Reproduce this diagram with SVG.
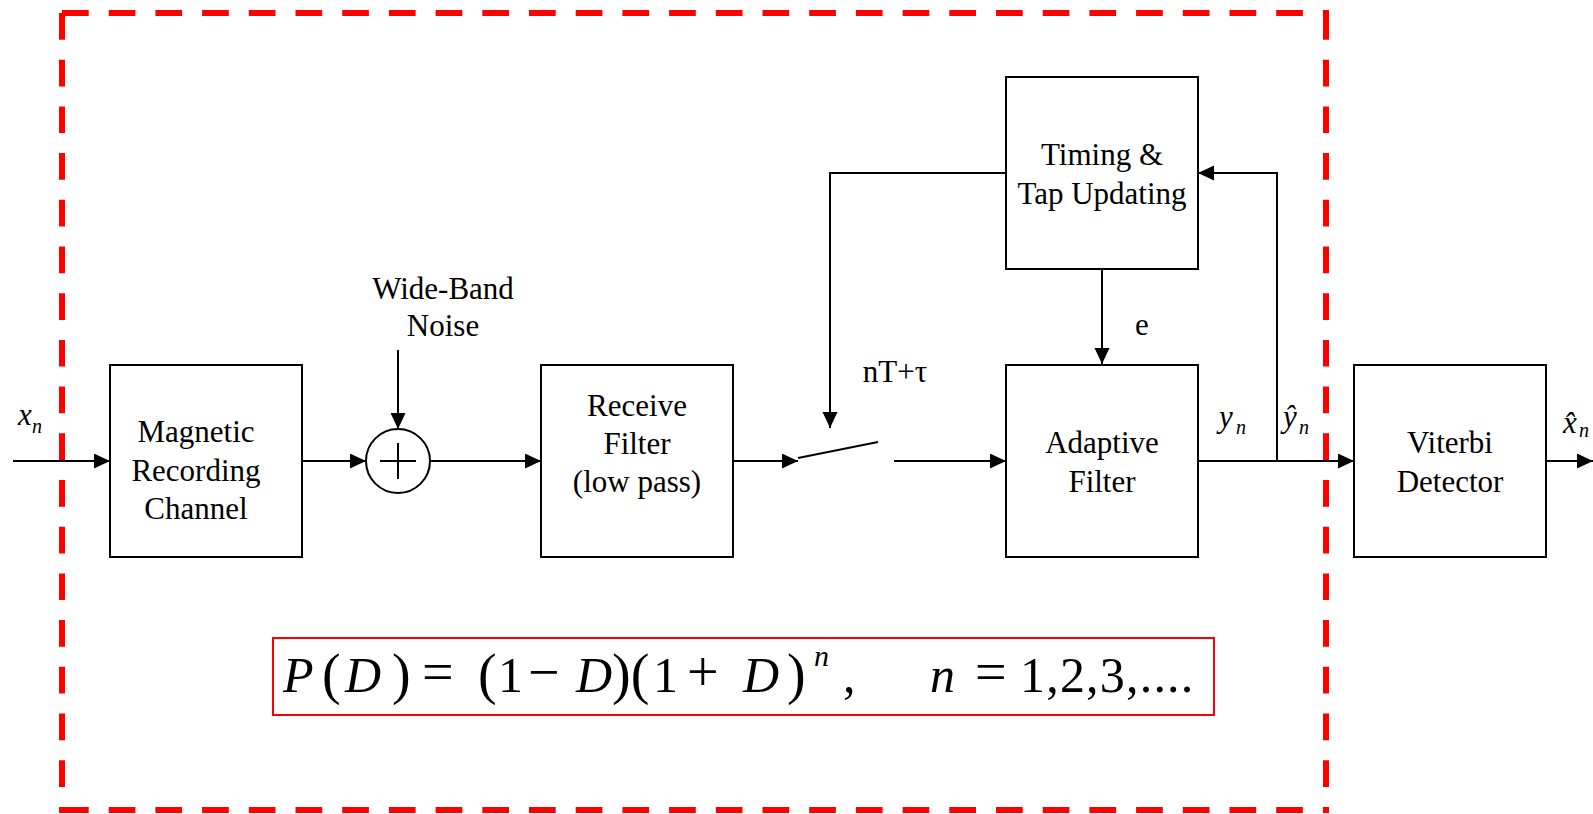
<svg xmlns="http://www.w3.org/2000/svg" width="1593" height="814" viewBox="0 0 1593 814">
<style>
.box{fill:#fff;stroke:#000;stroke-width:2}
.ln{fill:none;stroke:#000;stroke-width:2}
.arr{fill:none;stroke:#000;stroke-width:2;marker-end:url(#ah)}
.lbl{font-family:"Liberation Serif","Times New Roman",serif;font-size:31px;fill:#000;text-anchor:middle}
.it{font-family:"Liberation Serif","Times New Roman",serif;font-style:italic;fill:#000}
.eq{font-family:"Liberation Serif","Times New Roman",serif;font-size:50px;fill:#000}
.pa{font-size:56px}
.op{font-size:56px}
.dash{stroke:#f00;stroke-width:6;stroke-dasharray:26.7 20;fill:none}
</style>
<defs>
<marker id="ah" markerUnits="userSpaceOnUse" markerWidth="17" markerHeight="16" refX="16" refY="7.5" orient="auto">
<path d="M0,0 L16,7.5 L0,15 z" fill="#000"/>
</marker>
</defs>
<rect width="1593" height="814" fill="#fff"/>

<g id="boundary">
<line class="dash" x1="62" y1="13" x2="1329" y2="13"/>
<line class="dash" x1="62" y1="13" x2="62" y2="813"/>
<line class="dash" x1="62" y1="810" x2="1329" y2="810"/>
<line class="dash" x1="1326" y1="13" x2="1326" y2="813"/>
</g>

<g id="connectors">
<path class="arr" d="M13,461 H110"/>
<path class="arr" d="M302,461 H366"/>
<path class="arr" d="M398,350 V429"/>
<path class="arr" d="M430,461 H541"/>
<path class="arr" d="M733,461 H798"/>
<path class="ln" d="M798,458 L878,442"/>
<path class="arr" d="M894,461 H1006"/>
<path class="arr" d="M1006,173 H830 V428"/>
<path class="arr" d="M1102,269 V364"/>
<path class="arr" d="M1198,461 H1354"/>
<path class="arr" d="M1277,461 V173 H1198"/>
<path class="arr" d="M1546,461 H1593"/>
</g>

<g id="magnetic">
<rect class="box" x="110" y="365" width="192" height="192"/>
<text class="lbl" x="196" y="442">Magnetic</text>
<text class="lbl" x="196" y="481">Recording</text>
<text class="lbl" x="196" y="519">Channel</text>
</g>

<g id="sum">
<circle class="box" cx="398" cy="461" r="32"/>
<path class="ln" d="M380,461 H416 M398,443 V479"/>
</g>

<g id="noise">
<text class="lbl" x="443" y="299">Wide-Band</text>
<text class="lbl" x="443" y="336">Noise</text>
</g>

<g id="receive">
<rect class="box" x="541" y="365" width="192" height="192"/>
<text class="lbl" x="637" y="416">Receive</text>
<text class="lbl" x="637" y="454">Filter</text>
<text class="lbl" x="637" y="492">(low pass)</text>
</g>

<g id="switch">
<text class="lbl" x="895" y="382">nT+τ</text>
</g>

<g id="timing">
<rect class="box" x="1006" y="77" width="192" height="192"/>
<text class="lbl" x="1102" y="165">Timing &amp;</text>
<text class="lbl" x="1102" y="204">Tap Updating</text>
<text class="lbl" x="1142" y="335">e</text>
</g>

<g id="adaptive">
<rect class="box" x="1006" y="365" width="192" height="192"/>
<text class="lbl" x="1102" y="453">Adaptive</text>
<text class="lbl" x="1102" y="492">Filter</text>
</g>

<g id="viterbi">
<rect class="box" x="1354" y="365" width="192" height="192"/>
<text class="lbl" x="1450" y="453">Viterbi</text>
<text class="lbl" x="1450" y="492">Detector</text>
</g>

<g id="signals">
<text class="it" font-size="31" x="18" y="425">x<tspan font-size="20" x="32" y="433">n</tspan></text>
<text class="it" font-size="31" x="1219" y="427">y<tspan font-size="20" x="1236" y="434">n</tspan></text>
<text class="it" font-size="31" x="1283" y="427">ŷ<tspan font-size="20" x="1299" y="434">n</tspan></text>
<text class="it" font-size="31" x="1563" y="433">x̂<tspan font-size="20" x="1579" y="437">n</tspan></text>
</g>

<g id="formula">
<rect x="273" y="638" width="941" height="77" fill="#fff" stroke="#f00" stroke-width="2"/>
<text class="eq" y="692"><tspan x="283" font-style="italic">P</tspan><tspan class="pa" x="322" y="693">(</tspan><tspan x="345" y="692" font-style="italic">D</tspan><tspan class="pa" x="392" y="693">)</tspan><tspan class="op" x="422" y="691">=</tspan><tspan class="pa" x="478" y="693">(</tspan><tspan x="498" y="692">1</tspan><tspan class="op" x="528" y="691">−</tspan><tspan x="576" y="692" font-style="italic">D</tspan><tspan class="pa" x="612" y="693">)(</tspan><tspan x="653" y="692">1</tspan><tspan class="op" x="687" y="691">+</tspan><tspan x="743" y="692" font-style="italic">D</tspan><tspan class="pa" x="787" y="693">)</tspan><tspan x="814" y="666" font-size="30" font-style="italic">n</tspan><tspan x="843" y="692">,</tspan><tspan x="930" font-style="italic">n</tspan><tspan class="op" x="975" y="691">=</tspan><tspan x="1020" y="692" letter-spacing="1.2">1,2,3,....</tspan></text>
</g>
</svg>
